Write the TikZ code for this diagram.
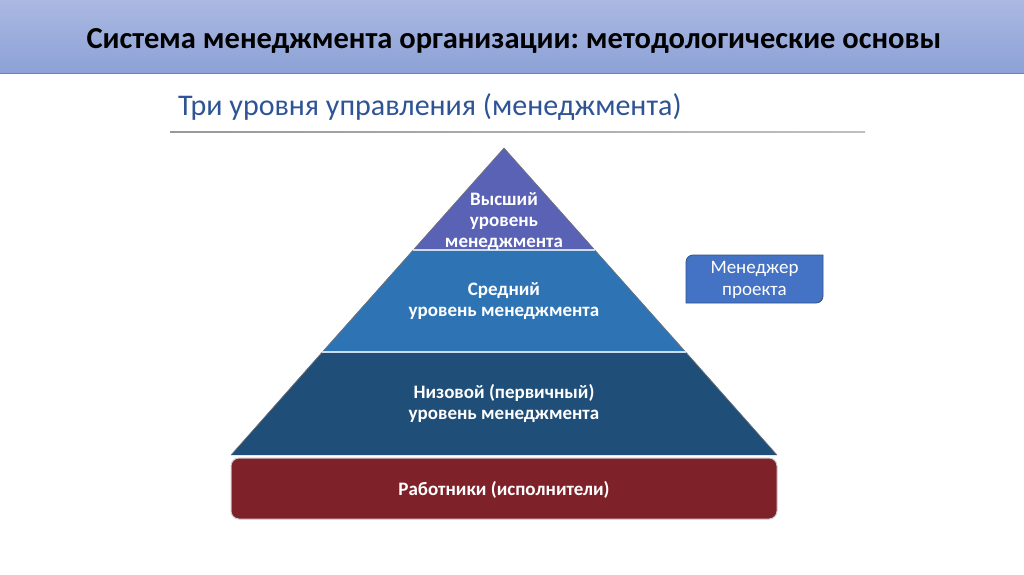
\documentclass[tikz,border=0pt]{standalone}
\usepackage{fontspec}
\setmainfont{Carlito}
\frenchspacing
\definecolor{hdtop}{HTML}{ABB9E2}
\definecolor{hdbot}{HTML}{8CA1D6}
\definecolor{subc}{HTML}{2F5496}
\definecolor{topc}{HTML}{5A62B6}
\definecolor{midc}{HTML}{2E74B5}
\definecolor{lowc}{HTML}{1F4E79}
\definecolor{redc}{HTML}{7F2129}
\definecolor{mgrc}{HTML}{4472C4}
\definecolor{mgrb}{HTML}{2F528F}
\tikzset{
  lvltext/.style={text=white, font=\bfseries\fontsize{19}{21}\selectfont, align=center},
}
\begin{document}
\begin{tikzpicture}[x=1pt,y=-1pt]
\useasboundingbox (0,0) rectangle (1024,574);
\fill[white] (0,0) rectangle (1024,574);
% header
\shade[top color=hdtop, bottom color=hdbot] (0,0) rectangle (1024,73);
\draw[hdbot!80!black, line width=0.6pt] (0,73) -- (1024,73);
\node (title) at (514,40.5) {\bfseries\fontsize{30.5}{34}\selectfont Система менеджмента организации: методологические основы};
% subtitle
\node[anchor=west, text=subc, inner sep=0pt] (sub) at (178,107) {\fontsize{30}{34}\selectfont Три уровня управления (менеджмента)};
\shade[left color=black!40, right color=black!25] (170,131.2) rectangle (865,132.8);
% pyramid
\fill[topc] (504,148) -- (595,250) -- (413,250) -- cycle;
\fill[midc] (413,250) -- (595,250) -- (686,352) -- (322,352) -- cycle;
\fill[lowc] (322,352) -- (686,352) -- (777,455) -- (231,455) -- cycle;
\draw[black!55, line width=0.6pt] (231,455) -- (504,148) -- (777,455);
\draw[white!75!midc, line width=1.2pt] (413,250) -- (595,250);
\draw[white!75!midc, line width=1.2pt] (322,352) -- (686,352);
% workers
\draw[fill=redc, draw=black!20, line width=1pt, rounded corners=8pt] (231,458) rectangle (777,519);
\node[lvltext] (top) at (504,222) {Высший\\уровень\\менеджмента};
\node[lvltext] (mid) at (504,301) {Средний\\уровень менеджмента};
\node[lvltext] (low) at (504,403) {Низовой (первичный)\\уровень менеджмента};
\node[lvltext] (work) at (504,490) {Работники (исполнители)};
% manager box
\draw[fill=mgrc, draw=mgrb, line width=0.8pt]
  (686,262) arc[start angle=180, end angle=270, radius=7] -- (823,255) -- (823,296)
  arc[start angle=0, end angle=90, radius=7] -- (686,303) -- cycle;
\node[text=white, align=center, font=\fontsize{19}{22}\selectfont] (mgr) at (754.5,280) {Менеджер\\проекта};
\end{tikzpicture}
\end{document}
